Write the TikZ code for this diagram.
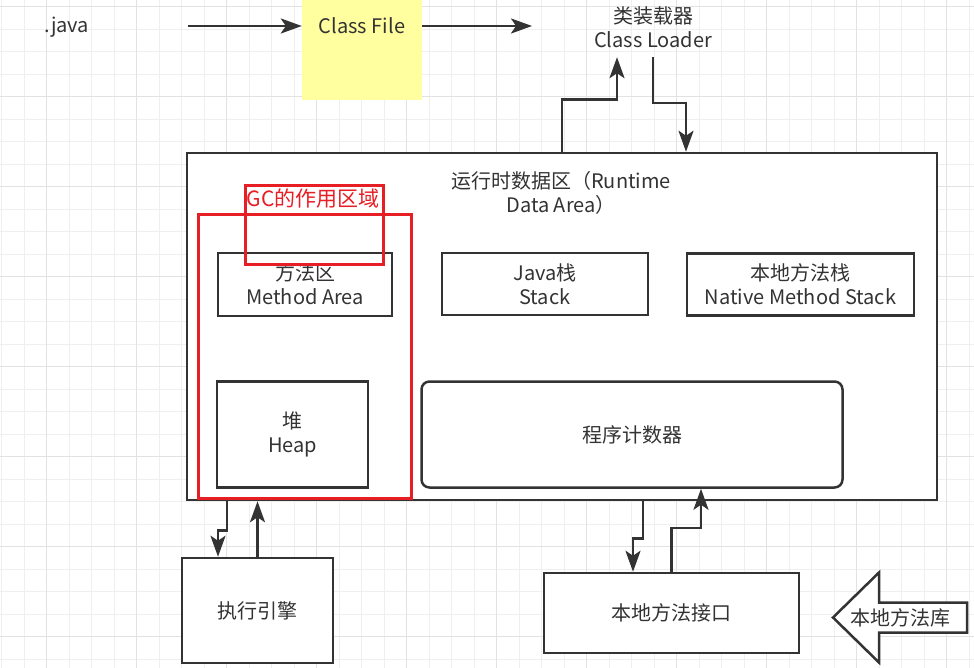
\documentclass[tikz,border=0pt]{standalone}
\usepackage{fontspec}
\setmainfont{Noto Sans CJK SC}
\usetikzlibrary{positioning, arrows.meta, calc}
\definecolor{lineGray}{HTML}{333333}
\definecolor{textGray}{HTML}{333333}
\definecolor{gridMinor}{HTML}{EFEFEF}
\definecolor{gridMajor}{HTML}{E2E2E2}
\definecolor{noteYellow}{HTML}{FFFFA0}
\definecolor{gcRed}{HTML}{E81E25}

\begin{document}
\begin{tikzpicture}[x=1pt, y=-1pt,
    box/.style={rectangle, draw=lineGray, line width=2.5pt, fill=white, align=center, text=textGray, font=\fontsize{20}{24}\selectfont, inner sep=0pt},
    txt/.style={align=center, text=textGray, font=\fontsize{20}{24}\selectfont, inner sep=0pt},
    gcbox/.style={rectangle, draw=gcRed, line width=3pt, inner sep=0pt},
    arr/.style={-{Stealth[length=21pt, width=15pt, inset=5pt]}, draw=lineGray, line width=2.5pt}
  ]
  \useasboundingbox (0,0) rectangle (974,668);
  \clip (0,0) rectangle (974,668);

  \foreach \i in {0,...,43} {
    \draw[gridMinor, line width=1pt] ({1.7+22.5*\i},0) -- ({1.7+22.5*\i},668);
  }
  \foreach \i in {0,...,30} {
    \draw[gridMinor, line width=1pt] (0,{6.7+22.5*\i}) -- (974,{6.7+22.5*\i});
  }
  \foreach \i in {0,...,10} {
    \draw[gridMajor, line width=1pt] ({46.7+90*\i},0) -- ({46.7+90*\i},668);
  }
  \foreach \i in {0,...,7} {
    \draw[gridMajor, line width=1pt] (0,{6.7+90*\i}) -- (974,{6.7+90*\i});
  }

  \node[txt] (java) at (67,27) {.java};
  \node[txt, fill=noteYellow, minimum width=120pt, minimum height=148pt] (cf) at (362,26) {Class File};
  \node[txt, minimum height=59pt] (cl) at (653,27.5) {类装载器\\Class Loader};
  \coordinate (javaout) at (188,26);
  \coordinate (clin) at (532,26);

  \draw[arr] (javaout) -- (cf.west);
  \draw[arr] (cf.east) -- (clin);

  \node[box, minimum width=750pt, minimum height=347pt] (rt) at (562,326.5) {};
  \node[txt] (rttitle) at (561,193) {运行时数据区（Runtime\\Data Area）};

  \node[box, minimum width=174pt, minimum height=63pt] (ma) at (305,284.5) {方法区\\Method Area};
  \node[box, minimum width=206pt, minimum height=62pt] (js) at (545,284) {Java栈\\Stack};
  \node[box, minimum width=227pt, minimum height=62pt] (nms) at (800.5,284.5) {本地方法栈\\Native Method Stack};
  \node[box, minimum width=151pt, minimum height=106pt] (hp) at (292.5,434.5) {堆\\Heap};
  \node[box, rounded corners=8pt, minimum width=421pt, minimum height=106pt] (pc) at (632,434.5) {程序计数器};

  \node[gcbox, minimum width=213pt, minimum height=283pt] (gcarea) at (304.5,356.5) {};
  \node[gcbox, minimum width=138pt, minimum height=79pt] (gcmark) at (314,225.5) {};
  \node[txt, text=gcRed, font=\fontsize{21}{25}\selectfont] (gctext) at (313,199) {GC的作用区域};

  \node[box, minimum width=151pt, minimum height=105pt] (ex) at (257.5,610.5) {执行引擎};
  \node[box, minimum width=255pt, minimum height=80pt] (ni) at (671.5,613) {本地方法接口};

  \draw[arr] (rt.north) -- ++(0,-52) -| ([xshift=-36]cl.south);
  \draw[arr] (cl.south) -- ++(0,46) -| ([xshift=124]rt.north);

  \draw[arr] ([xshift=-335]rt.south) -- ++(0,29) -| ([xshift=-39.5]ex.north);
  \draw[arr] (ex.north) -- (ex.north |- rt.south);
  \draw[arr] ([xshift=81]rt.south) -- ++(0,37) -| ([xshift=-38.5]ni.north);
  \draw[arr] (ni.north) -- ++(0,-44) -| ([xshift=69]pc.south);

  \draw[draw=lineGray, line width=2.5pt, fill=white] (833,617.5) -- (879,572.5) -- (879,602.5) -- (967,602.5) -- (967,632.5) -- (879,632.5) -- (879,662.5) -- cycle;
  \node[txt] (lib) at (900,618) {本地方法库};
\end{tikzpicture}
\end{document}
